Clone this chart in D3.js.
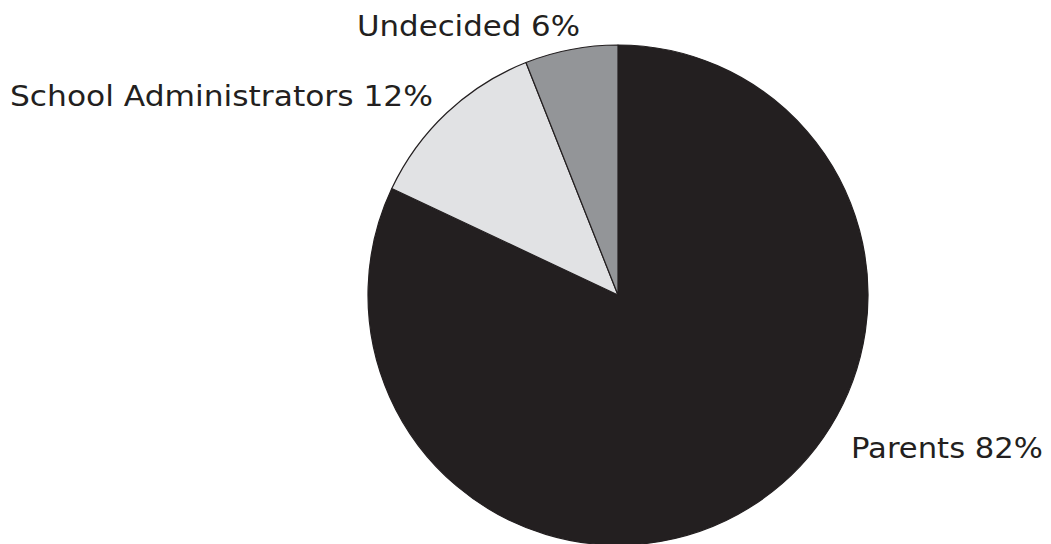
<!DOCTYPE html>
<html><head><meta charset="utf-8">
<script src="https://cdn.jsdelivr.net/npm/d3@7"></script>
<style>body{margin:0;background:#fff}svg{display:block}</style>
</head><body>
<script>
const categories = ["Parents", "School Administrators", "Undecided"];
const values = [82, 12, 6];
const labels = ["Parents 82%", "School Administrators 12%", "Undecided 6%"];
const colors = ["#231f20", "#e1e2e4", "#939598"];

const W = 1051, H = 544, cx = 618, cy = 295, R = 250;
const svg = d3.select("body").append("svg").attr("width", W).attr("height", H);
const pie = d3.pie().sort(null).value(d => d)(values);
const arc = d3.arc().innerRadius(0).outerRadius(R);
const g = svg.append("g").attr("transform", `translate(${cx},${cy})`);
g.selectAll("path").data(pie).join("path")
  .attr("d", arc).attr("fill", (d, i) => colors[i])
  .attr("stroke", "#231f20").attr("stroke-width", 1.2).attr("stroke-linejoin", "round");

const pos = [
  {x: 851, y: 458, w: 192},
  {x: 10, y: 106, w: 423},
  {x: 357, y: 36, w: 223}
];
svg.selectAll("text.lbl").data(labels).join("text")
  .attr("class", "lbl")
  .attr("x", (d, i) => pos[i].x).attr("y", (d, i) => pos[i].y)
  .attr("textLength", (d, i) => pos[i].w).attr("lengthAdjust", "spacingAndGlyphs")
  .attr("font-family", "DejaVu Sans, sans-serif").attr("font-size", 28)
  .attr("fill", "#231f20").text(d => d);
</script>
</body></html>
